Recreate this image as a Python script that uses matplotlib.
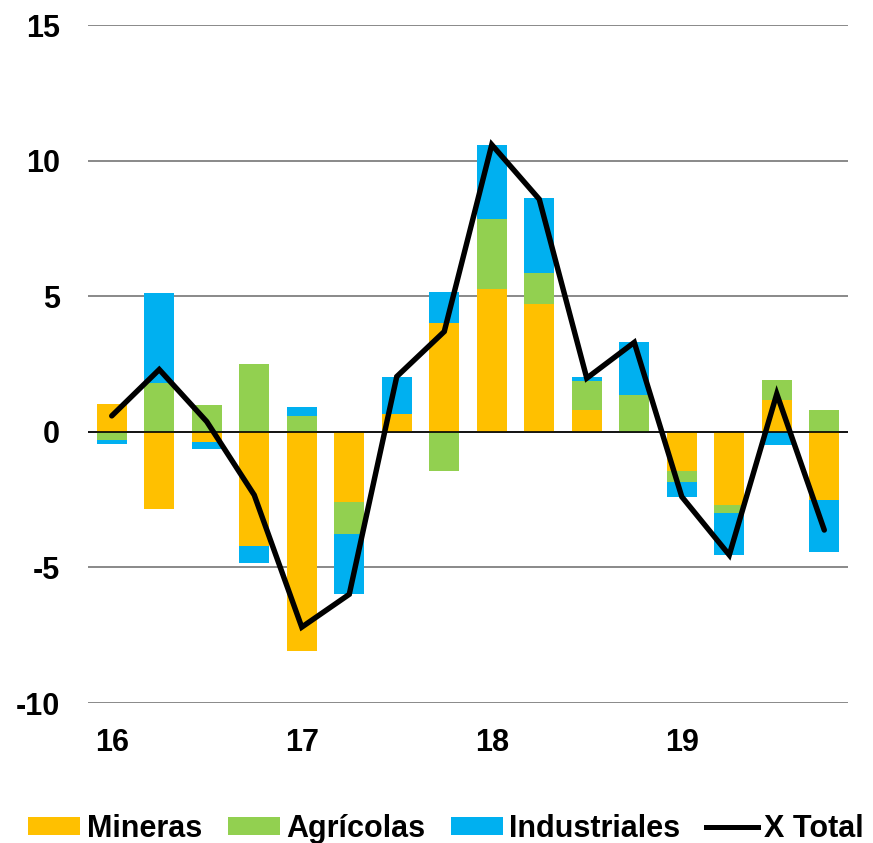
import numpy as np
import matplotlib
matplotlib.use("Agg")
import matplotlib.pyplot as plt
from matplotlib.lines import Line2D
from matplotlib.patches import Patch

plt.rcParams['font.family'] = ['Liberation Sans', 'DejaVu Sans']
plt.rcParams['font.weight'] = 'bold'

# trimestres 2016Q1 .. 2019Q4
trimestres = np.arange(16)
etiquetas_x = ['16', '17', '18', '19']

mineras = [1.03, -2.84, -0.39, -4.20, -8.07, -2.57, 0.66, 4.03,
           5.27, 4.72, 0.81, 0.00, -1.46, -2.69, 1.16, -2.51]
agricolas = [-0.30, 1.82, 1.00, 2.50, 0.57, -1.19, 0.00, -1.44,
             2.59, 1.14, 1.08, 1.37, -0.37, -0.29, 0.76, 0.81]
industriales = [-0.15, 3.30, -0.24, -0.65, 0.33, -2.23, 1.36, 1.12,
                2.73, 2.77, 0.13, 1.96, -0.58, -1.56, -0.50, -1.91]
x_total = [0.59, 2.30, 0.38, -2.33, -7.20, -5.99, 2.04, 3.70,
           10.59, 8.58, 1.98, 3.30, -2.39, -4.54, 1.40, -3.62]

series = [('Mineras', mineras, '#FFC000'),
          ('Agrícolas', agricolas, '#92D050'),
          ('Industriales', industriales, '#00B0F0')]

fig = plt.figure(figsize=(8.73, 8.43), dpi=100)
ax = fig.add_axes([0.1008, 0.166, 0.8706, 0.8042])

pos = np.zeros(16)
neg = np.zeros(16)
for nombre, valores, color in series:
    v = np.array(valores)
    base = np.where(v >= 0, pos, neg)
    ax.bar(trimestres, v, bottom=base, width=0.63, color=color,
           edgecolor='none', zorder=2)
    pos = pos + np.where(v >= 0, v, 0)
    neg = neg + np.where(v < 0, v, 0)

ax.plot(trimestres, x_total, color='black', lw=3.9, zorder=4,
        solid_joinstyle='miter', solid_capstyle='round')

ax.set_xlim(-0.5, 15.5)
ax.set_ylim(-10, 15)
ax.set_yticks([-10, -5, 0, 5, 10, 15])
ax.set_yticklabels(['-10', '-5', '0', '5', '10', '15'])
ax.set_xticks([0, 4, 8, 12])
ax.set_xticklabels(etiquetas_x)
ax.tick_params(length=0, labelsize=22)
ax.tick_params(axis='x', pad=18)
ax.tick_params(axis='y', pad=20)

ax.yaxis.grid(True, color='#808080', lw=1.3, zorder=0)
ax.set_axisbelow(True)
ax.axhline(0, color='black', lw=1.2, zorder=3)
for s in ax.spines.values():
    s.set_visible(False)

handles = [Patch(facecolor=c, label=n) for n, _, c in series]
handles.append(Line2D([0], [0], color='black', lw=3.6, label='X Total'))
fig.legend(handles=handles, loc='center', bbox_to_anchor=(0.511, 0.017),
           ncol=4, frameon=False, fontsize=22, handlelength=1.7,
           handleheight=0.5, handletextpad=0.2, columnspacing=0.85,
           borderpad=0, borderaxespad=0)

fig.savefig('out.png', dpi=100)
